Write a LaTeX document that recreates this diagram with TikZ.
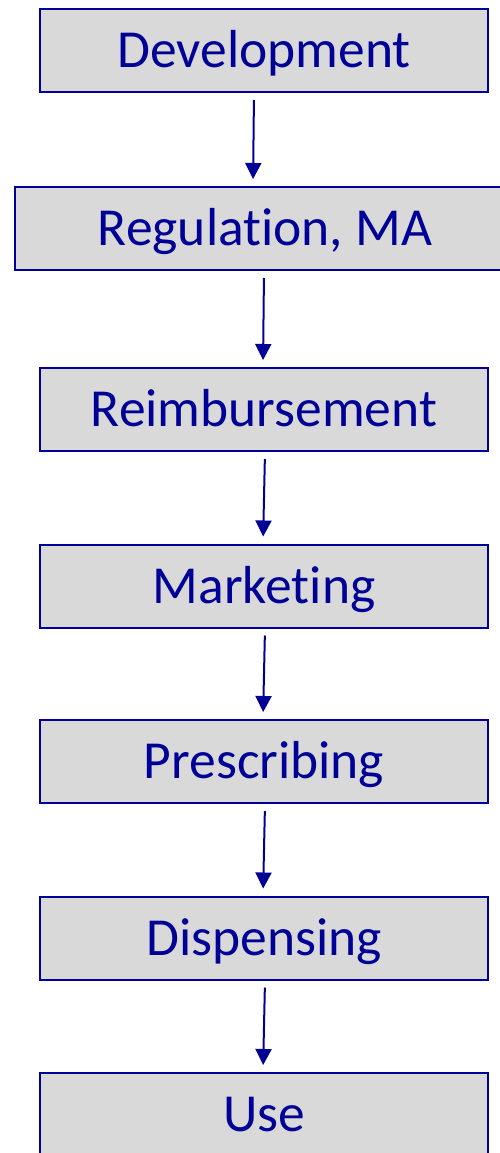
\documentclass[tikz,border=0pt]{standalone}
\usepackage{fontspec}
\setmainfont{Carlito}[Ligatures=NoCommon]
\usetikzlibrary{arrows.meta}
\definecolor{navy}{RGB}{0,0,150}
\definecolor{boxgray}{RGB}{217,217,217}
\begin{document}
\begin{tikzpicture}[x=1pt,y=-1pt,>={Triangle[length=16pt,width=16pt]},
	stage/.style={draw=navy,line width=2pt,fill=boxgray,text=navy,
		minimum width=448pt,minimum height=83pt,inner sep=0pt,
		font=\fontsize{53.5}{60}\selectfont,text height=34pt,text depth=0pt},
	flow/.style={->,draw=navy,line width=2pt,shorten <=7pt,shorten >=7pt}]
\useasboundingbox (0,0) rectangle (499,1153);
\node (dev)  at (264,50.5)   [stage] {Development};
\node (reg)  at (265,228.5)  [stage,minimum width=500pt] {Regulation, MA};
\node (reim) at (264,409.5)  [stage] {Reimbursement};
\node (mark) at (264,586)    [stage] {Marketing};
\node (pres) at (264,761.5)  [stage] {Prescribing};
\node (disp) at (264,938)    [stage] {Dispensing};
\node (use)  at (264,1114.5) [stage] {Use};
\draw[flow] ([xshift=-10pt]dev.south) -- ([xshift=-12pt]reg.north);
\draw[flow] ([xshift=-1pt]reg.south) -- ([xshift=-1pt]reim.north);
\draw[flow] ([xshift=1pt]reim.south) -- ([xshift=-1pt]mark.north);
\draw[flow] ([xshift=1pt]mark.south) -- ([xshift=-1pt]pres.north);
\draw[flow] ([xshift=1pt]pres.south) -- ([xshift=-1pt]disp.north);
\draw[flow] ([xshift=1pt]disp.south) -- ([xshift=-1pt]use.north);
\end{tikzpicture}
\end{document}
